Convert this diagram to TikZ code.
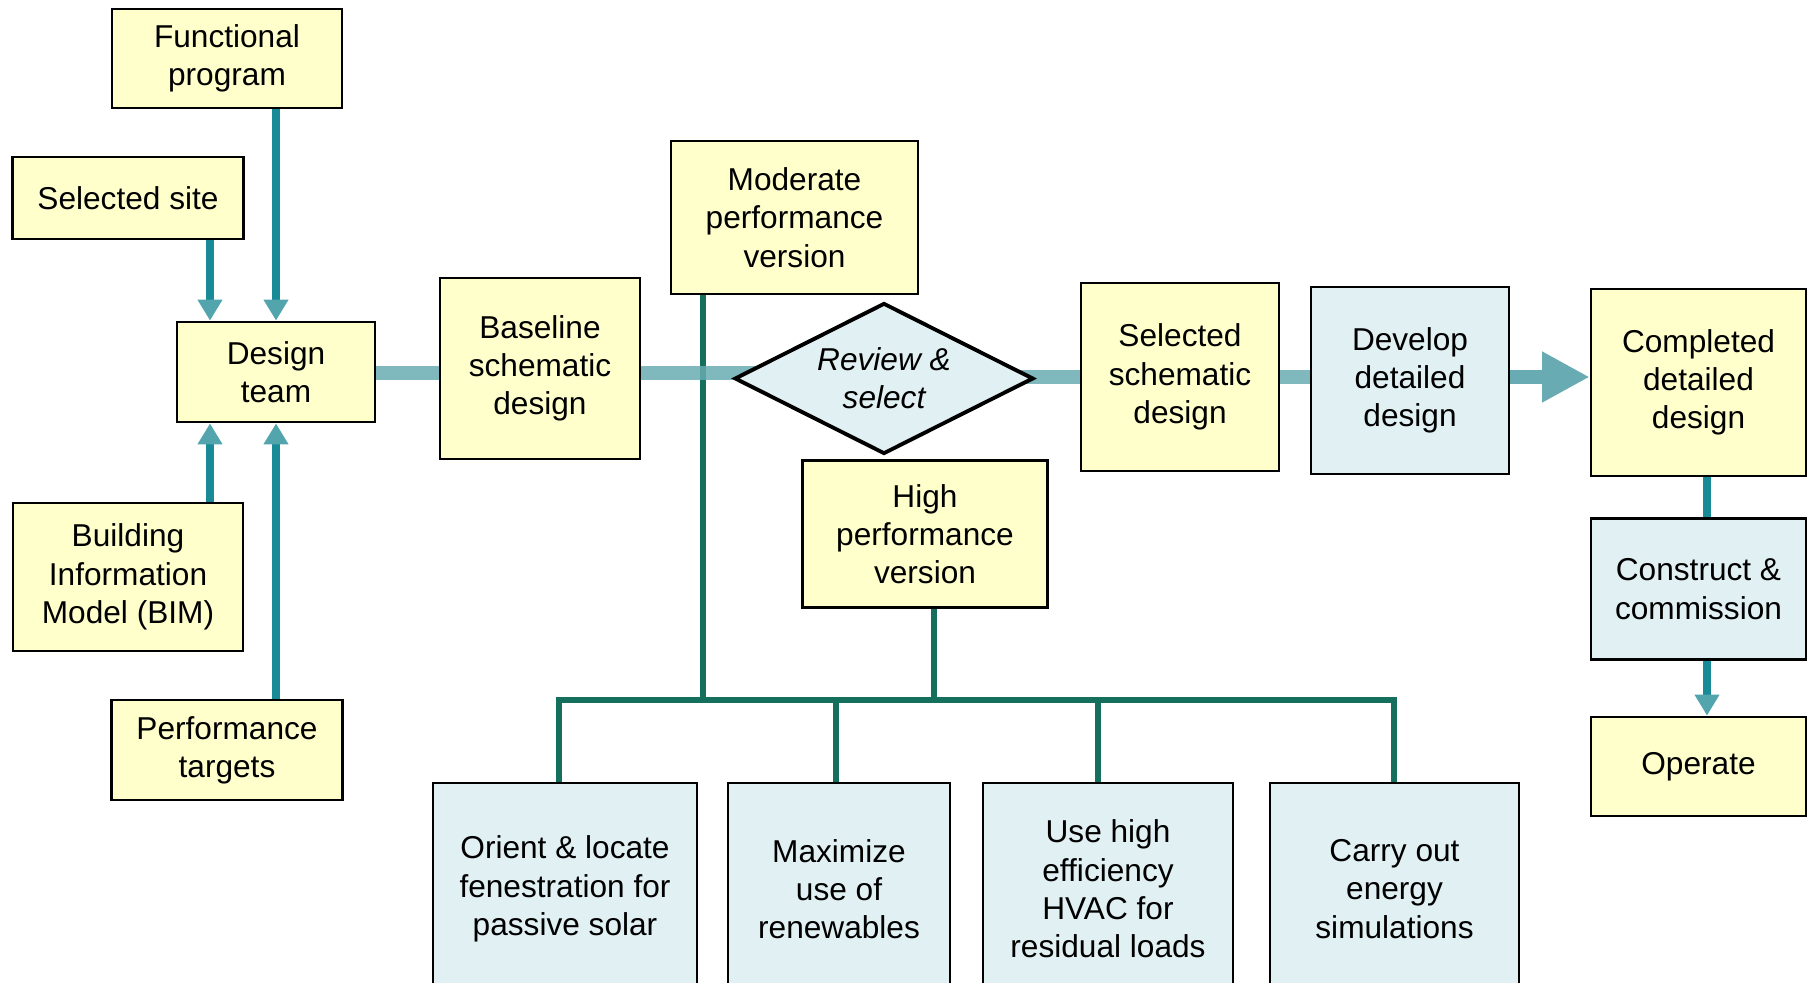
\documentclass[tikz,border=0pt]{standalone}
\usepackage{fontspec}
\setmainfont{Liberation Sans}
\usetikzlibrary{arrows.meta,shapes.geometric,backgrounds,calc}

\definecolor{boxyellow}{RGB}{255,255,204}
\definecolor{boxblue}{RGB}{225,240,243}
\definecolor{tealline}{RGB}{24,139,150}
\definecolor{tealhead}{RGB}{82,165,173}
\definecolor{bandteal}{RGB}{104,171,178}
\definecolor{busgreen}{RGB}{20,112,92}

\tikzset{
  box/.style={draw=black, line width=1.6pt, align=center, inner sep=0pt,
    font=\fontsize{18}{21.8}\selectfont},
  ybox/.style={box, fill=boxyellow},
  bbox/.style={box, fill=boxblue},
  feed/.style={draw=tealline, line width=4.2pt,
    -{Triangle[width=13.5pt,length=12pt,color=tealhead]}},
  link/.style={draw=tealline, line width=4.5pt},
  band/.style={draw=bandteal, line width=8pt, opacity=0.85},
  bigarrow/.style={draw=bandteal, line width=8pt,
    -{Triangle[width=27pt,length=27pt]}},
  bus/.style={draw=busgreen, line width=3.2pt, line join=miter},
}

\begin{document}
\begin{tikzpicture}[x=0.02cm, y=-0.02cm]
\useasboundingbox (0,0) rectangle (1808,983);

% inputs to the design team
\node[ybox, minimum width=4.6cm,  minimum height=1.98cm] (func) at (227,58.5) {Functional\\program};
\node[ybox, minimum width=4.62cm, minimum height=1.64cm] (site) at (128,198) {Selected site};
\node[ybox, minimum width=3.96cm, minimum height=2.0cm]  (team) at (276,372) {Design\\team};
\node[ybox, minimum width=4.6cm,  minimum height=2.96cm] (bim)  at (128,577) {Building\\Information\\Model (BIM)};
\node[ybox, minimum width=4.62cm, minimum height=2.0cm]  (perf) at (227,750) {Performance\\targets};

% schematic design stage
\node[ybox, minimum width=4.0cm,  minimum height=3.62cm] (base) at (540,368.5) {Baseline\\schematic\\design};
\node[ybox, minimum width=4.94cm, minimum height=3.06cm] (mod)  at (794.5,217.5) {Moderate\\performance\\version};
\node[diamond, aspect=2, draw=black, line width=2.2pt, fill=boxblue, inner sep=0pt,
      minimum width=5.98cm, minimum height=3.02cm, align=center,
      font=\fontsize{18}{21.8}\selectfont\itshape] (rs) at (884,378.5) {Review \&\\select};
\node[ybox, minimum width=4.9cm,  minimum height=2.94cm] (high)   at (925,534) {High\\performance\\version};
\node[ybox, minimum width=3.96cm, minimum height=3.76cm] (selsch) at (1180,377) {Selected\\schematic\\design};

% detailed design, construction and operation
\node[bbox, minimum width=3.96cm, minimum height=3.74cm] (dev)  at (1410,380.5) {Develop\\detailed\\design};
\node[ybox, minimum width=4.3cm,  minimum height=3.74cm] (comp) at (1698.5,382.5) {Completed\\detailed\\design};
\node[bbox, minimum width=4.3cm,  minimum height=2.82cm] (cons) at (1698.5,589) {Construct \&\\commission};
\node[ybox, minimum width=4.3cm,  minimum height=1.98cm] (op)   at (1698.5,766.5) {Operate};

% high performance strategies
\node[bbox, minimum width=5.28cm, minimum height=4.24cm] (orient) at (565,889) {Orient \& locate\\fenestration for\\passive solar};
\node[bbox, minimum width=4.44cm, minimum height=4.24cm] (maxr)   at (839,889) {Maximize\\use of\\renewables};
\node[bbox, minimum width=5.0cm,  minimum height=4.24cm] (hvac)   at (1108,889) {Use high\\efficiency\\HVAC for\\residual loads};
\node[bbox, minimum width=4.98cm, minimum height=4.24cm] (sim)    at (1394.5,889) {Carry out\\energy\\simulations};

% guide coordinates for connector positions
\coordinate (xA) at (210,0);
\coordinate (xB) at (276,0);
\coordinate (xM) at (703,0);
\coordinate (xH) at (934,0);
\coordinate (xC) at (1707,0);
\coordinate (d1) at (559,0);
\coordinate (d2) at (836,0);
\coordinate (d3) at (1098,0);
\coordinate (d4) at (1394,0);
\coordinate (busY)  at (0,700);
\coordinate (bandL) at (0,373);
\coordinate (bandR) at (0,377);

\begin{scope}[on background layer]
  % green tree of design options
  \draw[bus] (mod.south -| xM) -- (xM |- busY);
  \draw[bus] (high.south -| xH) -- (xH |- busY);
  \draw[bus] (orient.north -| d1) -- (d1 |- busY) -- (d4 |- busY) -- (sim.north -| d4);
  \draw[bus] (maxr.north -| d2) -- (d2 |- busY);
  \draw[bus] (hvac.north -| d3) -- (d3 |- busY);

  % main process band
  \draw[band] (team.east |- bandL) -- (base.west |- bandL);
  \draw[band] (base.east |- bandL) -- (rs.center |- bandL);
  \draw[band] (rs.center |- bandR) -- (selsch.west |- bandR);
  \draw[band] (selsch.east |- bandR) -- (dev.west |- bandR);
  \draw[bigarrow] (dev.east |- bandR) -- (comp.west |- bandR);

  % feeds into the design team
  \draw[feed] (site.south -| xA) -- (team.north -| xA);
  \draw[feed] (func.south -| xB) -- (team.north -| xB);
  \draw[feed] (bim.north -| xA) -- (team.south -| xA);
  \draw[feed] (perf.north -| xB) -- (team.south -| xB);

  % right column
  \draw[link] (comp.south -| xC) -- (cons.north -| xC);
  \draw[feed] (cons.south -| xC) -- (op.north -| xC);
\end{scope}
\end{tikzpicture}
\end{document}
